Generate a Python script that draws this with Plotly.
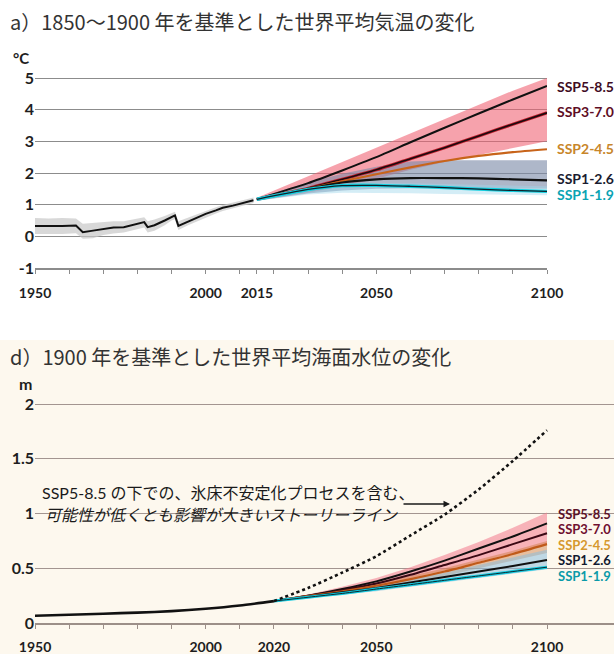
import plotly.graph_objects as go

W, H = 614, 654

# ---------- a) global surface temperature change, relative to 1850-1900 (°C)
hist_years = [1950, 1954, 1958, 1962, 1964, 1967, 1970, 1973, 1976, 1979, 1982, 1983,
              1985, 1988, 1990, 1991, 1992, 1995, 1998, 2000, 2003, 2005, 2008, 2010, 2012, 2014]
hist_temp = [0.33, 0.32, 0.33, 0.34, 0.13, 0.18, 0.24, 0.28, 0.29, 0.37, 0.45, 0.29,
             0.35, 0.50, 0.62, 0.66, 0.33, 0.48, 0.62, 0.71, 0.82, 0.90, 0.97, 1.03, 1.08, 1.14]
hist_temp_hi = [0.58, 0.56, 0.58, 0.56, 0.40, 0.43, 0.46, 0.48, 0.48, 0.53, 0.60, 0.48,
                0.53, 0.64, 0.74, 0.78, 0.48, 0.60, 0.74, 0.82, 0.92, 0.99, 1.06, 1.12, 1.17, 1.23]
hist_temp_lo = [0.07, 0.06, 0.07, 0.10, -0.08, -0.06, 0.04, 0.09, 0.12, 0.20, 0.28, 0.12,
                0.18, 0.35, 0.50, 0.54, 0.20, 0.36, 0.50, 0.60, 0.72, 0.80, 0.88, 0.94, 0.99, 1.05]

proj_years_t = [2015, 2030, 2040, 2050, 2060, 2070, 2080, 2090, 2100]
t_ssp585 = [1.17, 1.68, 2.08, 2.50, 2.97, 3.43, 3.88, 4.32, 4.75]
t_ssp370 = [1.17, 1.52, 1.80, 2.10, 2.45, 2.80, 3.17, 3.54, 3.90]
t_ssp245 = [1.17, 1.50, 1.74, 1.96, 2.18, 2.38, 2.54, 2.66, 2.75]
t_ssp126 = [1.17, 1.50, 1.70, 1.80, 1.84, 1.84, 1.83, 1.80, 1.77]
t_ssp119 = [1.17, 1.48, 1.60, 1.61, 1.58, 1.54, 1.49, 1.45, 1.42]
t_ssp370_lo = [1.12, 1.38, 1.58, 1.82, 2.10, 2.35, 2.57, 2.79, 3.00]
t_ssp370_hi = [1.22, 1.90, 2.35, 2.80, 3.25, 3.70, 4.15, 4.60, 5.00]
t_ssp126_lo = [1.12, 1.35, 1.45, 1.50, 1.52, 1.52, 1.52, 1.50, 1.50]
t_ssp126_hi = [1.20, 1.70, 1.98, 2.20, 2.36, 2.40, 2.40, 2.40, 2.40]
t_ssp119_lo = [1.12, 1.32, 1.38, 1.38, 1.36, 1.34, 1.32, 1.30, 1.30]
t_ssp119_hi = [1.20, 1.60, 1.70, 1.70, 1.68, 1.65, 1.62, 1.60, 1.58]

t_ticks = [-1, 0, 1, 2, 3, 4, 5]
t_xticks = [1950, 1960, 1970, 1980, 1990, 2000, 2010, 2015, 2020, 2030, 2040, 2050,
            2060, 2070, 2080, 2090, 2100]
t_xlabels = {1950: "1950", 2000: "2000", 2015: "2015", 2050: "2050", 2100: "2100"}

# ---------- d) global mean sea level change, relative to 1900 (m)
sl_years = [1950, 1960, 1970, 1980, 1990, 2000, 2010, 2020]
sl_hist = [0.066, 0.075, 0.085, 0.095, 0.108, 0.130, 0.160, 0.200]

proj_years_s = [2020, 2030, 2040, 2050, 2060, 2070, 2080, 2090, 2100]
s_storyline = [0.20, 0.32, 0.46, 0.61, 0.80, 0.99, 1.22, 1.48, 1.76]
s_ssp585 = [0.20, 0.25, 0.31, 0.38, 0.47, 0.57, 0.68, 0.79, 0.91]
s_ssp370 = [0.20, 0.25, 0.30, 0.36, 0.44, 0.53, 0.62, 0.72, 0.82]
s_ssp245 = [0.20, 0.245, 0.29, 0.34, 0.40, 0.47, 0.55, 0.63, 0.72]
s_ssp126 = [0.20, 0.24, 0.28, 0.32, 0.37, 0.42, 0.47, 0.52, 0.575]
s_ssp119 = [0.20, 0.235, 0.27, 0.31, 0.35, 0.39, 0.43, 0.47, 0.51]
s_ssp585_lo = [0.20, 0.24, 0.29, 0.34, 0.41, 0.48, 0.56, 0.64, 0.72]
s_ssp585_hi = [0.20, 0.26, 0.33, 0.41, 0.51, 0.62, 0.74, 0.87, 1.01]
s_ssp245_lo = [0.20, 0.24, 0.28, 0.32, 0.37, 0.43, 0.50, 0.57, 0.64]
s_ssp245_hi = [0.20, 0.25, 0.30, 0.36, 0.43, 0.50, 0.58, 0.66, 0.75]
s_ssp126_lo = [0.20, 0.23, 0.26, 0.29, 0.33, 0.37, 0.41, 0.45, 0.49]
s_ssp126_hi = [0.20, 0.25, 0.29, 0.34, 0.40, 0.46, 0.53, 0.60, 0.67]

s_ticks = [0, 0.5, 1, 1.5, 2]
s_ticktext = ["0", "0.5", "1", "1.5", "2"]
s_xticks = list(range(1950, 2101, 10))
s_xlabels = {1950: "1950", 2000: "2000", 2020: "2020", 2050: "2050", 2100: "2100"}

scenarios = ["SSP5-8.5", "SSP3-7.0", "SSP2-4.5", "SSP1-2.6", "SSP1-1.9"]
label_colors_t = ["#3f0c1f", "#5e0d24", "#c8862a", "#1a1c30", "#0aa3b3"]
label_colors_s = ["#5a1228", "#701030", "#d6982e", "#121a30", "#0a9aa8"]
label_y_t = [4.74, 3.95, 2.78, 1.84, 1.32]
label_y_s = [1.0, 0.858, 0.716, 0.574, 0.432]

# ---------- figure geometry (pixels -> paper fractions)
def px_x(x):
    return x / W


def px_y(y):
    return 1 - y / H


X0, X1_TOP = 35, 547
YEAR_PX = (X1_TOP - X0) / 150.0
top_unit = (268 - 78) / 6.0
top_range = [-1, 5.25]
top_dom = [px_y(268), px_y(78 - (top_range[1] - 5) * top_unit)]
bot_unit = (623 - 404) / 2.0
bot_range = [0, 2.1]
bot_dom = [px_y(623), px_y(623 - bot_range[1] * bot_unit)]
bot_xmax = 1950 + (W - X0) / YEAR_PX

LATIN = "Lato, 'Noto Sans CJK JP', sans-serif"
CJK = "'Noto Sans CJK JP', sans-serif"

fig = go.Figure()


def band(x, lo, hi, color, xa, ya):
    fig.add_trace(go.Scatter(x=x, y=lo, mode="lines", line=dict(width=0),
                             hoverinfo="skip", xaxis=xa, yaxis=ya))
    fig.add_trace(go.Scatter(x=x, y=hi, mode="lines", line=dict(width=0),
                             fill="tonexty", fillcolor=color, hoverinfo="skip",
                             xaxis=xa, yaxis=ya))


def line(x, y, color, width, xa, ya, dash="solid", shape="spline"):
    fig.add_trace(go.Scatter(x=x, y=y, mode="lines",
                             line=dict(color=color, width=width, dash=dash, shape=shape,
                                       smoothing=0.6),
                             hoverinfo="skip", xaxis=xa, yaxis=ya))


# --- panel a
band(hist_years, hist_temp_lo, hist_temp_hi, "rgba(200,200,200,0.7)", "x", "y")
line(hist_years, hist_temp, "#111111", 2, "x", "y", shape="linear")
band(proj_years_t, t_ssp370_lo, t_ssp370_hi, "rgba(240,95,112,0.58)", "x", "y")
band(proj_years_t, t_ssp126_lo, t_ssp126_hi, "rgba(125,138,168,0.62)", "x", "y")
band(proj_years_t, t_ssp119_lo, t_ssp119_hi, "rgba(160,215,235,0.45)", "x", "y")
line(proj_years_t, t_ssp585, "#111111", 2, "x", "y")
line(proj_years_t, t_ssp370, "#c0202e", 3.2, "x", "y")
line(proj_years_t, t_ssp370, "#1a0a0e", 1.6, "x", "y")
line(proj_years_t, t_ssp245, "#c8641a", 2.2, "x", "y")
line(proj_years_t, t_ssp126, "#111111", 2.2, "x", "y")
line(proj_years_t, t_ssp119, "#12d0e0", 3.4, "x", "y")
line(proj_years_t, t_ssp119, "#10202a", 1.3, "x", "y")

# --- panel d
line(sl_years, sl_hist, "#111111", 2.6, "x2", "y2")
band(proj_years_s, s_ssp585_lo, s_ssp585_hi, "rgba(242,120,140,0.55)", "x2", "y2")
band(proj_years_s, s_ssp245_lo, s_ssp245_hi, "rgba(205,120,60,0.45)", "x2", "y2")
band(proj_years_s, s_ssp126_lo, s_ssp126_hi, "rgba(140,190,220,0.55)", "x2", "y2")
line(proj_years_s, s_ssp585, "#111111", 2, "x2", "y2")
line(proj_years_s, s_ssp370, "#3a0814", 2, "x2", "y2")
line(proj_years_s, s_ssp245, "#c05a1a", 2.2, "x2", "y2")
line(proj_years_s, s_ssp126, "#111111", 2, "x2", "y2")
line(proj_years_s, s_ssp119, "#12cbe0", 3, "x2", "y2")
line(proj_years_s, s_ssp119, "#0e2a30", 1, "x2", "y2")
line(proj_years_s, s_storyline, "#111111", 2.6, "x2", "y2", dash="dot")

tickfont_x = dict(family=LATIN, size=14, color="#1e1e1e", weight="bold")
tickfont_y = dict(family=LATIN, size=16, color="#1e1e1e", weight="bold")

fig.update_layout(
    width=W, height=H, autosize=False,
    margin=dict(l=0, r=0, t=0, b=0, autoexpand=False),
    paper_bgcolor="white", plot_bgcolor="rgba(0,0,0,0)",
    showlegend=False,
    xaxis=dict(domain=[px_x(X0), px_x(X1_TOP)], range=[1950, 2100], anchor="y",
               automargin=False, ticklabelstandoff=7,
               tickvals=t_xticks, ticktext=[t_xlabels.get(v, "") for v in t_xticks],
               ticks="outside", ticklen=4, tickwidth=1, tickcolor="#8c8c8c",
               showline=True, linecolor="#8c8c8c", linewidth=1.5,
               showgrid=False, zeroline=False, tickfont=tickfont_x, tickangle=0),
    yaxis=dict(domain=top_dom, range=top_range, anchor="x", automargin=False,
               tickvals=t_ticks, ticktext=[str(v) for v in t_ticks],
               showgrid=True, gridcolor="#8c8c8c", gridwidth=1.4,
               zeroline=False, showline=False, ticks="", tickfont=tickfont_y),
    xaxis2=dict(domain=[px_x(X0), 1.0], range=[1950, bot_xmax], anchor="y2",
                automargin=False, ticklabelstandoff=6,
                tickvals=s_xticks, ticktext=[s_xlabels.get(v, "") for v in s_xticks],
                ticks="outside", ticklen=4, tickwidth=1, tickcolor="#9c8f88",
                showline=True, linecolor="#9c8f88", linewidth=1.5,
                showgrid=False, zeroline=False, tickfont=tickfont_x, tickangle=0),
    yaxis2=dict(domain=bot_dom, range=bot_range, anchor="x2", automargin=False,
                tickvals=s_ticks, ticktext=s_ticktext,
                showgrid=True, gridcolor="#a39590", gridwidth=1.4,
                zeroline=False, showline=False, ticks="", tickfont=tickfont_y),
    shapes=[dict(type="rect", xref="paper", yref="paper", x0=0, x1=1,
                 y0=0, y1=px_y(340), fillcolor="#fdf8ee", line=dict(width=0),
                 layer="below")],
)

annotations = [
    dict(text="a）1850～1900 年を基準とした世界平均気温の変化", xref="paper", yref="paper",
         x=px_x(8), y=px_y(22), xanchor="left", yanchor="middle", showarrow=False,
         font=dict(family=CJK, size=20, color="#333333")),
    dict(text="d）1900 年を基準とした世界平均海面水位の変化", xref="paper", yref="paper",
         x=px_x(8), y=px_y(357), xanchor="left", yanchor="middle", showarrow=False,
         font=dict(family=CJK, size=20, color="#333333")),
    dict(text="°C", xref="paper", yref="paper", x=px_x(21), y=px_y(58),
         xanchor="center", yanchor="middle", showarrow=False,
         font=dict(family=LATIN, size=15, color="#1e1e1e", weight="bold")),
    dict(text="m", xref="paper", yref="paper", x=px_x(25), y=px_y(383),
         xanchor="center", yanchor="middle", showarrow=False,
         font=dict(family=LATIN, size=16, color="#1e1e1e", weight="bold")),
    dict(text="SSP5-8.5 の下での、氷床不安定化プロセスを含む、", xref="paper", yref="paper",
         x=px_x(40), y=px_y(492), xanchor="left", yanchor="middle", showarrow=False,
         font=dict(family=LATIN, size=16, color="#1a1a1a")),
    dict(text="<i>可能性が低くとも影響が大きいストーリーライン</i>", xref="paper", yref="paper",
         x=px_x(43), y=px_y(514), xanchor="left", yanchor="middle", showarrow=False,
         font=dict(family=CJK, size=16, color="#1a1a1a")),
    dict(text="", xref="paper", yref="paper", x=px_x(450), y=px_y(504),
         axref="pixel", ayref="pixel", ax=-48, ay=0, showarrow=True,
         arrowhead=2, arrowsize=1, arrowwidth=1.3, arrowcolor="#1a1a1a"),
]

for name, c, yv in zip(scenarios, label_colors_t, label_y_t):
    annotations.append(dict(text=name, xref="x", yref="y", x=2100, y=yv, xshift=8,
                            xanchor="left", yanchor="middle", showarrow=False,
                            font=dict(family=LATIN, size=14, color=c, weight="bold")))
for name, c, yv in zip(scenarios, label_colors_s, label_y_s):
    annotations.append(dict(text=name, xref="x2", yref="y2", x=2100, y=yv, xshift=9,
                            xanchor="left", yanchor="middle", showarrow=False,
                            font=dict(family=LATIN, size=13, color=c, weight="bold")))

fig.update_layout(annotations=annotations)
fig.write_html("out.html")
